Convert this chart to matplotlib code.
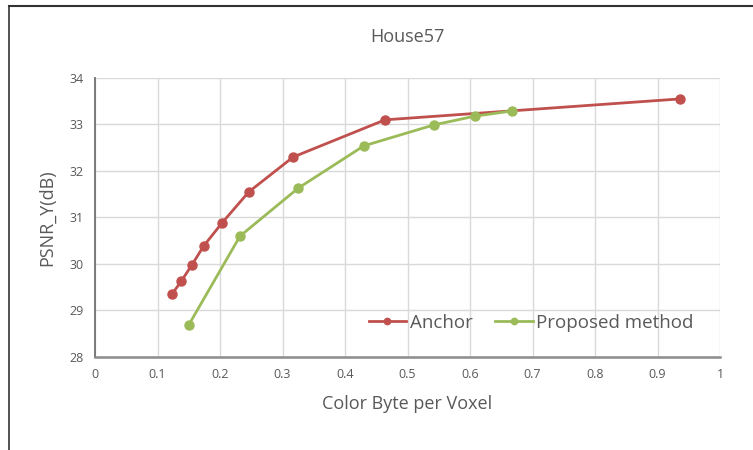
import matplotlib
matplotlib.use("Agg")
import matplotlib.pyplot as plt
from matplotlib.lines import Line2D

plt.rcParams['font.family'] = ['Open Sans', 'DejaVu Sans']

anchor_x = [0.123, 0.138, 0.155, 0.174, 0.203, 0.246, 0.317, 0.464, 0.936]
anchor_y = [29.35, 29.63, 29.98, 30.39, 30.88, 31.55, 32.30, 33.10, 33.55]
prop_x = [0.150, 0.232, 0.325, 0.430, 0.542, 0.608, 0.667]
prop_y = [28.69, 30.60, 31.63, 32.54, 32.99, 33.18, 33.29]
x_ticks = [0, 0.1, 0.2, 0.3, 0.4, 0.5, 0.6, 0.7, 0.8, 0.9, 1]
x_tick_labels = ["0", "0.1", "0.2", "0.3", "0.4", "0.5", "0.6", "0.7", "0.8", "0.9", "1"]
y_ticks = [28, 29, 30, 31, 32, 33, 34]

red = "#C0504D"
green = "#9BBB59"
txt = "#595959"

fig = plt.figure(figsize=(7.53, 4.5), dpi=100)
ax = fig.add_axes([0.1262, 0.2067, 0.83, 0.62])

ax.plot(anchor_x, anchor_y, color=red, lw=2, marker='o', ms=6.5, label="Anchor", zorder=3)
ax.plot(prop_x, prop_y, color=green, lw=2, marker='o', ms=6.5, label="Proposed method", zorder=3)

ax.set_xlim(0, 1)
ax.set_ylim(28, 34)
ax.set_xticks(x_ticks)
ax.set_xticklabels(x_tick_labels)
ax.set_yticks(y_ticks)
ax.grid(True, color="#D9D9D9", lw=1)
ax.set_axisbelow(True)
for s in ["top", "right"]:
    ax.spines[s].set_visible(False)
ax.spines["left"].set_color("#707070")
ax.spines["bottom"].set_color("#8C8C8C")
ax.spines["left"].set_linewidth(1.3)
ax.spines["bottom"].set_linewidth(1.8)
ax.tick_params(length=0, labelsize=9, colors=txt, pad=8)

ax.set_title("House57", fontsize=13, color=txt, pad=26)
ax.set_xlabel("Color Byte per Voxel", fontsize=13, color=txt, labelpad=10)
ax.set_ylabel("PSNR_Y(dB)", fontsize=13, color=txt, labelpad=10)

leg = ax.legend(loc="lower right", bbox_to_anchor=(0.985, 0.03), ncol=2, frameon=False,
                fontsize=13.5, handlelength=2.0, handletextpad=0.2, columnspacing=1.2,
                markerscale=0.7, labelcolor=txt)

fig.add_artist(Line2D([0.0126, 1.0], [0.9867, 0.9867], transform=fig.transFigure, color="#333333", lw=1.5))
fig.add_artist(Line2D([0.0126, 0.0126], [0.0, 0.9867], transform=fig.transFigure, color="#333333", lw=1.2))

fig.savefig("out.png", dpi=100)
